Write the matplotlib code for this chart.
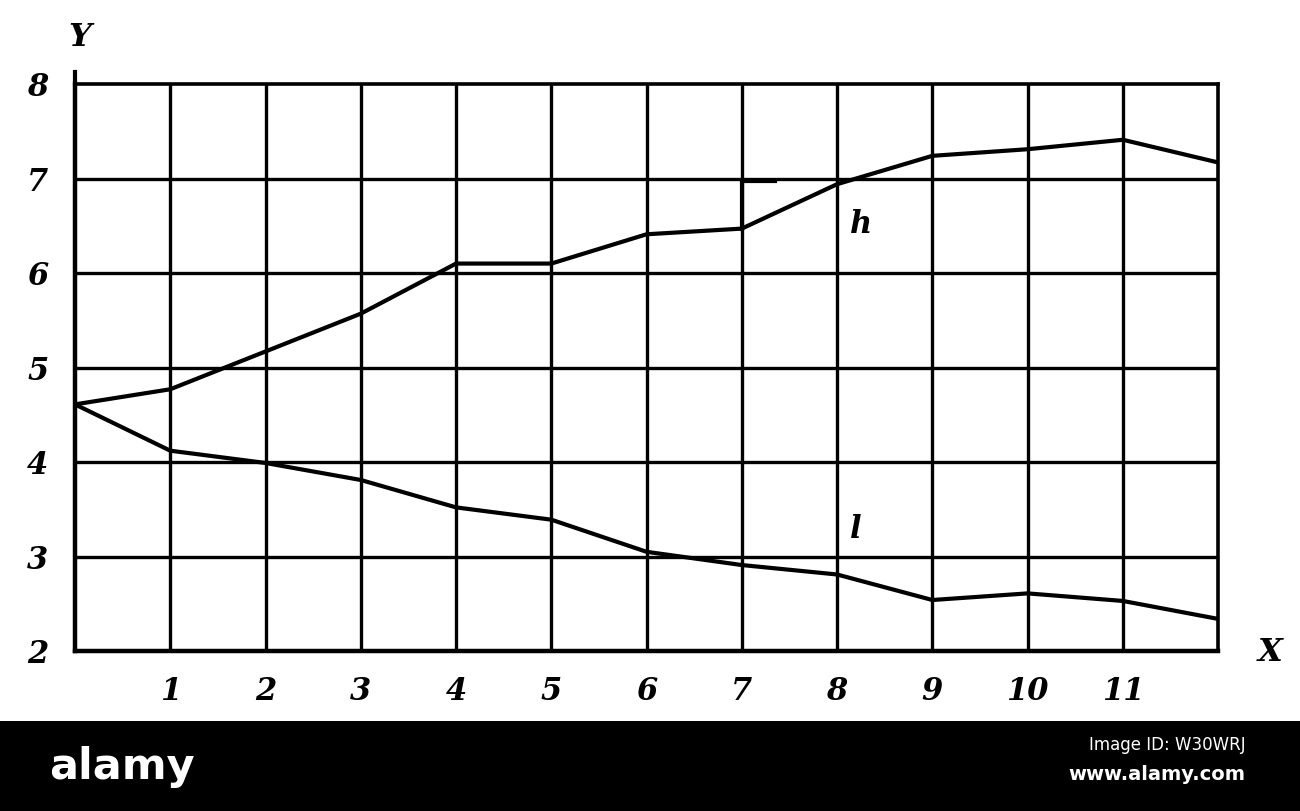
import matplotlib
matplotlib.use("Agg")
import matplotlib.pyplot as plt
from matplotlib.patches import Rectangle

x = [0, 1, 2, 3, 4, 5, 6, 7, 8, 9, 10, 11, 12]
h = [4.61, 4.77, 5.17, 5.57, 6.10, 6.10, 6.41, 6.47, 6.94, 7.24, 7.31, 7.41, 7.17]
l = [4.61, 4.12, 3.99, 3.81, 3.52, 3.39, 3.05, 2.91, 2.81, 2.54, 2.61, 2.53, 2.34]
xticks = [1, 2, 3, 4, 5, 6, 7, 8, 9, 10, 11]
yticks = [2, 3, 4, 5, 6, 7, 8]
bracket_x = [7.0, 7.0, 7.35]
bracket_y = [6.47, 6.97, 6.97]

fig = plt.figure(figsize=(13, 8.12), dpi=100)
ax = fig.add_axes([0.0577, 0.197, 0.8793, 0.6983])
ax.set_xlim(0, 12)
ax.set_ylim(2, 8)

font = dict(family="DejaVu Serif", weight="bold", style="italic")

for xv in xticks:
    ax.axvline(xv, color="black", lw=2.4, zorder=1)
for yv in yticks[1:-1]:
    ax.axhline(yv, color="black", lw=2.4, zorder=1)

ax.plot(x, h, color="black", lw=3, zorder=3, solid_joinstyle="round")
ax.plot(x, l, color="black", lw=3, zorder=3, solid_joinstyle="round")
ax.plot(bracket_x, bracket_y, color="black", lw=3, zorder=3)
ax.plot([0, 0], [8, 8.13], color="black", lw=3, clip_on=False)

for side in ["left", "bottom"]:
    ax.spines[side].set_linewidth(3.2)
for side in ["top", "right"]:
    ax.spines[side].set_linewidth(2.6)

ax.set_xticks([])
ax.set_yticks([])
for xv in xticks:
    ax.text(xv, 1.58, str(xv), ha="center", va="center", fontsize=22, **font)
for yv in yticks:
    ax.text(-0.39, yv - 0.03, str(yv), ha="center", va="center", fontsize=22, **font)

ax.text(0.05, 8.5, "Y", ha="center", va="center", fontsize=23, **font)
ax.text(12.55, 2.0, "X", ha="center", va="center", fontsize=23, **font)
ax.text(8.25, 6.52, "h", ha="center", va="center", fontsize=22, **font)
ax.text(8.2, 3.3, "l", ha="center", va="center", fontsize=22, **font)

fig.patches.append(Rectangle((0, 0), 1, 90 / 812, transform=fig.transFigure,
                             facecolor="black", edgecolor="none", zorder=0))
fig.text(0.038, 0.056, "alamy", color="white", fontsize=31, weight="bold",
         family="DejaVu Sans", ha="left", va="center")
fig.text(0.958, 0.083, "Image ID: W30WRJ", color="white", fontsize=12,
         family="DejaVu Sans", ha="right", va="center")
fig.text(0.958, 0.046, "www.alamy.com", color="white", fontsize=14, weight="bold",
         family="DejaVu Sans", ha="right", va="center")

fig.savefig("out.png", dpi=100, facecolor="white")
